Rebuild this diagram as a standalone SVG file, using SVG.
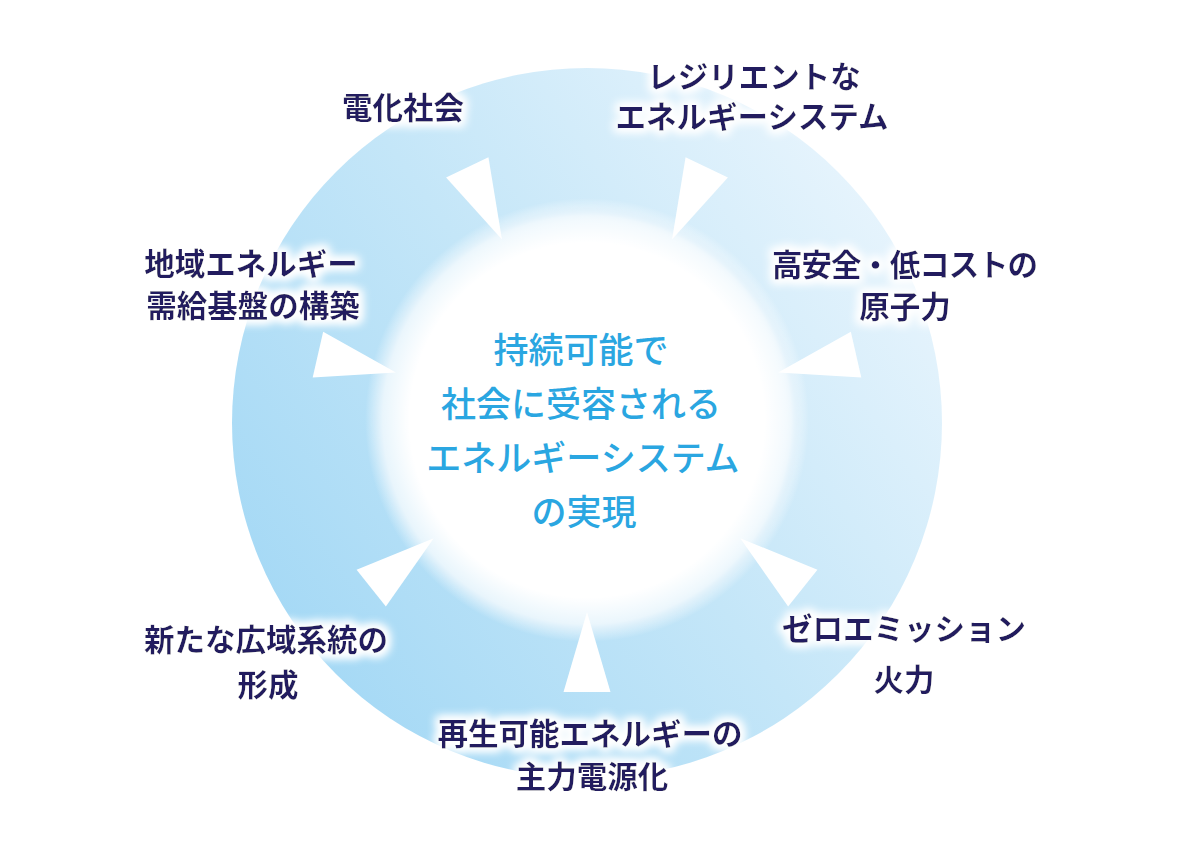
<svg xmlns="http://www.w3.org/2000/svg" width="1180" height="846" viewBox="0 0 1180 846">
<defs>
  <linearGradient id="ringGrad" gradientUnits="userSpaceOnUse" x1="260" y1="640" x2="900" y2="180">
    <stop offset="0" stop-color="#a3d8f5"/>
    <stop offset="0.5" stop-color="#c4e6f8"/>
    <stop offset="1" stop-color="#e9f5fd"/>
  </linearGradient>
  <radialGradient id="coreGrad" cx="0.5" cy="0.5" r="0.5">
    <stop offset="0" stop-color="#ffffff" stop-opacity="1"/>
    <stop offset="0.8" stop-color="#ffffff" stop-opacity="1"/>
    <stop offset="0.92" stop-color="#ffffff" stop-opacity="0.7"/>
    <stop offset="1" stop-color="#ffffff" stop-opacity="0"/>
  </radialGradient>
  <filter id="soft" x="-20%" y="-20%" width="140%" height="140%">
    <feGaussianBlur stdDeviation="3"/>
  </filter>
  <filter id="halo" x="-20%" y="-60%" width="140%" height="220%">
    <feMorphology in="SourceAlpha" operator="dilate" radius="3" result="d"/>
    <feGaussianBlur in="d" stdDeviation="5" result="b"/>
    <feFlood flood-color="#ffffff"/>
    <feComposite in2="b" operator="in" result="w"/>
    <feMerge>
      <feMergeNode in="w"/>
      <feMergeNode in="w"/>
      <feMergeNode in="SourceGraphic"/>
    </feMerge>
  </filter>
  <polygon id="tri" points="0,196 -23.5,276 23.5,276"/>
</defs>
<style>
  .lbl { font-family: "Noto Sans CJK JP", "Noto Sans", sans-serif; font-size: 30.5px; font-weight: 700; fill: #211b5e; text-anchor: middle; }
  .core { font-family: "Noto Sans CJK JP", "Noto Sans", sans-serif; font-size: 35px; font-weight: 500; fill: #2aa6e1; text-anchor: middle; }
  .arrow { fill: #ffffff; }
</style>
<rect width="1180" height="846" fill="#ffffff"/>

<g id="ring">
  <circle cx="587" cy="423" r="355" fill="url(#ringGrad)"/>
  <circle cx="587" cy="420" r="207" fill="none" stroke="#b7def5" stroke-width="5" filter="url(#soft)" opacity="0.8"/>
  <circle cx="587" cy="420" r="222" fill="url(#coreGrad)"/>
</g>

<g id="connectors">
  <use href="#tri" class="arrow" transform="translate(587 416) rotate(0)"/>
  <use href="#tri" class="arrow" transform="translate(587 416) rotate(51.43)"/>
  <use href="#tri" class="arrow" transform="translate(587 416) rotate(102.86)"/>
  <use href="#tri" class="arrow" transform="translate(587 416) rotate(154.29)"/>
  <use href="#tri" class="arrow" transform="translate(587 416) rotate(205.71)"/>
  <use href="#tri" class="arrow" transform="translate(587 416) rotate(257.14)"/>
  <use href="#tri" class="arrow" transform="translate(587 416) rotate(308.57)"/>
</g>

<g id="center">
  <text class="core" x="581" y="363">持続可能で</text>
  <text class="core" x="581" y="417">社会に受容される</text>
  <text class="core" x="583" y="471">エネルギーシステム</text>
  <text class="core" x="584" y="525">の実現</text>
</g>

<g id="n-denka" filter="url(#halo)">
  <text class="lbl" x="403" y="119">電化社会</text>
</g>
<g id="n-resilient" filter="url(#halo)">
  <text class="lbl" x="754" y="88">レジリエントな</text>
  <text class="lbl" x="752" y="128">エネルギーシステム</text>
</g>
<g id="n-nuclear" filter="url(#halo)">
  <text class="lbl" x="905" y="276" textLength="266" lengthAdjust="spacing">高安全・低コストの</text>
  <text class="lbl" x="905" y="318">原子力</text>
</g>
<g id="n-zero" filter="url(#halo)">
  <text class="lbl" x="904" y="640">ゼロエミッション</text>
  <text class="lbl" x="904" y="691">火力</text>
</g>
<g id="n-renew" filter="url(#halo)">
  <text class="lbl" x="590" y="745">再生可能エネルギーの</text>
  <text class="lbl" x="592" y="788">主力電源化</text>
</g>
<g id="n-grid" filter="url(#halo)">
  <text class="lbl" x="266" y="651">新たな広域系統の</text>
  <text class="lbl" x="268" y="696">形成</text>
</g>
<g id="n-local" filter="url(#halo)">
  <text class="lbl" x="251" y="275">地域エネルギー</text>
  <text class="lbl" x="253" y="317">需給基盤の構築</text>
</g>
</svg>
